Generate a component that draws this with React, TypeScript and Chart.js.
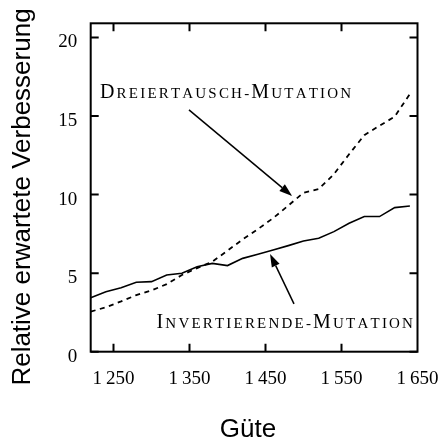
import React, { useEffect, useRef } from "react";
import { Chart, registerables } from "chart.js";

Chart.register(...registerables);

// ---- data ----
const guete = [1220, 1240, 1260, 1280, 1300, 1320, 1340, 1360, 1380, 1400, 1420, 1440, 1460, 1480, 1500, 1520, 1540, 1560, 1580, 1600, 1620, 1640];
const dreiertausch = [2.55, 2.83, 3.2, 3.6, 3.9, 4.3, 4.88, 5.32, 5.73, 6.43, 7.15, 7.8, 8.5, 9.3, 10.12, 10.35, 11.3, 12.57, 13.78, 14.38, 14.96, 16.4];
const invertierend = [3.44, 3.82, 4.07, 4.42, 4.46, 4.88, 4.99, 5.41, 5.62, 5.48, 5.94, 6.2, 6.47, 6.75, 7.05, 7.22, 7.64, 8.17, 8.6, 8.6, 9.17, 9.27];

const xTickValues = [1250, 1350, 1450, 1550, 1650];
const xTickLabels = ["1\u2009250", "1\u2009350", "1\u2009450", "1\u2009550", "1\u2009650"];
const yTickValues = [0, 5, 10, 15, 20];
const yTickLabels = ["0", "5", "10", "15", "20"];

const xTitle = "Güte";
const yTitle = "Relative erwartete Verbesserung";

const xMin = 1220;
const xMax = 1650;
const yMin = 0;
const yMax = 20.9;

// annotation texts and anchors (data coordinates)
const labelDreier = "Dreiertausch-Mutation";
const labelDreierAnchor = [1232.2, 16.13];
const arrowDreier = [1349.3, 15.39, 1485, 9.91];
const labelInvert = "Invertierende-Mutation";
const labelInvertAnchor = [1644, 1.48];
const arrowInvert = [1487.5, 3.04, 1456, 6.22];

function drawSmallCaps(ctx: CanvasRenderingContext2D, text: string, x: number, y: number, align: "left" | "right") {
  const big = "20px 'Liberation Serif', 'Times New Roman', serif";
  const small = "15px 'Liberation Serif', 'Times New Roman', serif";
  const spacing = 2.2;
  const chars = text.split("").map((c) => {
    const isUpper = c !== c.toLowerCase() && c === c.toUpperCase();
    return { ch: c.toUpperCase(), font: isUpper ? big : small };
  });
  let total = 0;
  const widths: number[] = [];
  chars.forEach((c, i) => {
    ctx.font = c.font;
    const w = ctx.measureText(c.ch).width;
    widths.push(w);
    total += w + (i < chars.length - 1 ? spacing : 0);
  });
  let cx = align === "left" ? x : x - total;
  ctx.textAlign = "left";
  ctx.textBaseline = "alphabetic";
  chars.forEach((c, i) => {
    ctx.font = c.font;
    ctx.fillText(c.ch, cx, y);
    cx += widths[i] + spacing;
  });
}

function drawArrow(ctx: CanvasRenderingContext2D, x1: number, y1: number, x2: number, y2: number) {
  const ang = Math.atan2(y2 - y1, x2 - x1);
  const len = 13;
  const half = 4.3;
  const bx = x2 - len * Math.cos(ang);
  const by = y2 - len * Math.sin(ang);
  ctx.beginPath();
  ctx.moveTo(x1, y1);
  ctx.lineTo(bx, by);
  ctx.lineWidth = 1.5;
  ctx.strokeStyle = "#000";
  ctx.stroke();
  ctx.beginPath();
  ctx.moveTo(x2, y2);
  ctx.lineTo(bx + half * Math.sin(ang), by - half * Math.cos(ang));
  ctx.lineTo(bx - half * Math.sin(ang), by + half * Math.cos(ang));
  ctx.closePath();
  ctx.fillStyle = "#000";
  ctx.fill();
}

const framePlugin = {
  id: "framePlugin",
  afterDraw(chart: any) {
    const { ctx, chartArea } = chart;
    const xs = chart.scales.x;
    const ys = chart.scales.y;
    const { left, right, top, bottom } = chartArea;
    ctx.save();
    ctx.strokeStyle = "#000";
    ctx.fillStyle = "#000";
    ctx.lineWidth = 2;
    ctx.strokeRect(left, top, right - left, bottom - top);

    const tl = 8;
    ctx.lineWidth = 2;
    xTickValues.forEach((v) => {
      const px = xs.getPixelForValue(v);
      if (px > left + 1 && px < right - 1) {
        ctx.beginPath();
        ctx.moveTo(px, bottom);
        ctx.lineTo(px, bottom - tl);
        ctx.moveTo(px, top);
        ctx.lineTo(px, top + tl);
        ctx.stroke();
      }
    });
    yTickValues.forEach((v) => {
      const py = ys.getPixelForValue(v);
      ctx.beginPath();
      ctx.moveTo(left, py);
      ctx.lineTo(left + tl, py);
      ctx.moveTo(right, py);
      ctx.lineTo(right - tl, py);
      ctx.stroke();
    });

    // tick labels
    ctx.font = "19px 'Liberation Serif', 'Times New Roman', serif";
    ctx.textAlign = "center";
    ctx.textBaseline = "middle";
    xTickValues.forEach((v, i) => {
      ctx.fillText(xTickLabels[i], xs.getPixelForValue(v), bottom + 27);
    });
    ctx.textAlign = "right";
    yTickValues.forEach((v, i) => {
      ctx.fillText(yTickLabels[i], left - 13.5, ys.getPixelForValue(v) + 5);
    });

    // axis titles
    ctx.font = "26px 'Liberation Sans', Arial, sans-serif";
    ctx.textAlign = "center";
    ctx.textBaseline = "alphabetic";
    ctx.fillText(xTitle, 248, 437);
    ctx.save();
    ctx.translate(29.5, 197);
    ctx.rotate(-Math.PI / 2);
    ctx.fillText(yTitle, 0, 0);
    ctx.restore();

    // annotations
    drawSmallCaps(ctx, labelDreier, xs.getPixelForValue(labelDreierAnchor[0]), ys.getPixelForValue(labelDreierAnchor[1]), "left");
    drawSmallCaps(ctx, labelInvert, xs.getPixelForValue(labelInvertAnchor[0]), ys.getPixelForValue(labelInvertAnchor[1]), "right");
    drawArrow(ctx, xs.getPixelForValue(arrowDreier[0]), ys.getPixelForValue(arrowDreier[1]), xs.getPixelForValue(arrowDreier[2]), ys.getPixelForValue(arrowDreier[3]));
    drawArrow(ctx, xs.getPixelForValue(arrowInvert[0]), ys.getPixelForValue(arrowInvert[1]), xs.getPixelForValue(arrowInvert[2]), ys.getPixelForValue(arrowInvert[3]));
    ctx.restore();
  },
};

export default function App() {
  const ref = useRef<HTMLCanvasElement | null>(null);
  useEffect(() => {
    if (!ref.current) return;
    const chart = new Chart(ref.current, {
      type: "line",
      data: {
        datasets: [
          {
            label: labelDreier,
            data: guete.map((g, i) => ({ x: g, y: dreiertausch[i] })),
            borderColor: "#000",
            borderWidth: 1.8,
            borderDash: [5, 4.5],
            pointRadius: 0,
            tension: 0,
            fill: false,
          },
          {
            label: labelInvert,
            data: guete.map((g, i) => ({ x: g, y: invertierend[i] })),
            borderColor: "#000",
            borderWidth: 1.6,
            pointRadius: 0,
            tension: 0,
            fill: false,
          },
        ],
      },
      options: {
        responsive: false,
        animation: false,
        layout: { padding: { left: 90.7, right: 26.5, top: 23.3, bottom: 89.3 } },
        plugins: { legend: { display: false }, tooltip: { enabled: false } },
        scales: {
          x: { type: "linear", min: xMin, max: xMax, display: false },
          y: { type: "linear", min: yMin, max: yMax, display: false },
        },
      },
      plugins: [framePlugin],
    });
    return () => chart.destroy();
  }, []);
  return (
    <canvas
      ref={ref}
      width={444}
      height={441}
      style={{ position: "absolute", left: 0, top: 0, width: 444, height: 441, background: "#fff" }}
    />
  );
}
